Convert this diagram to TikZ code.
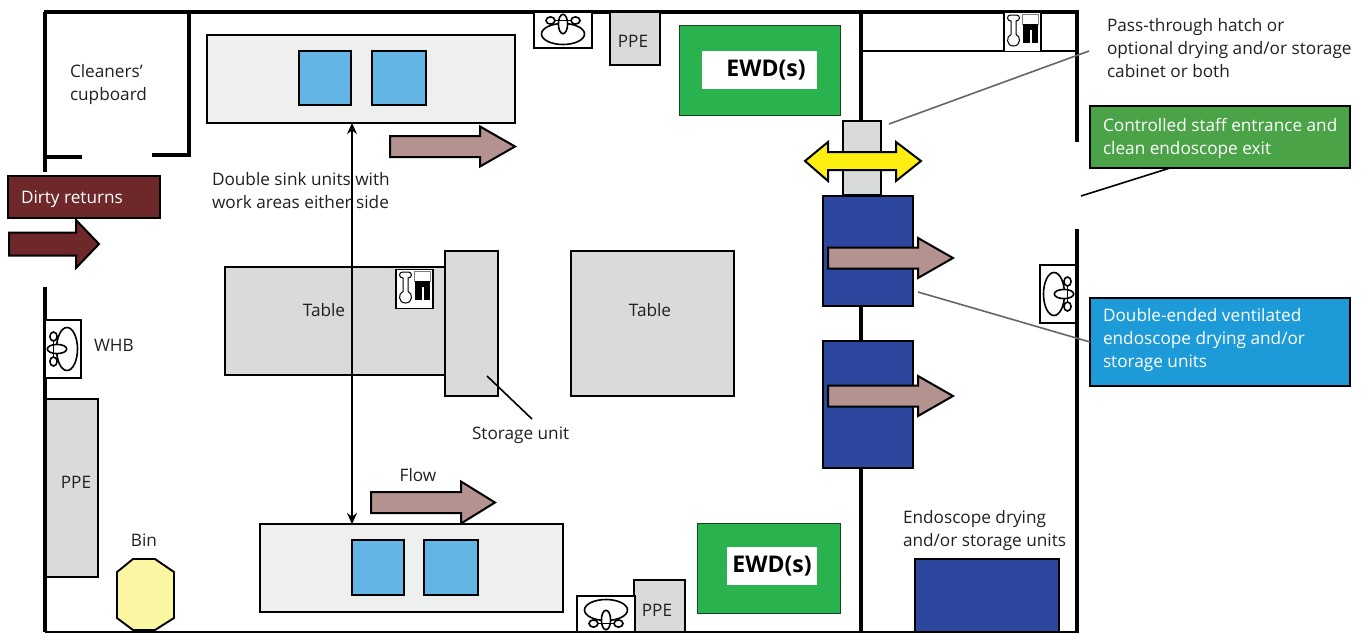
\documentclass[tikz,border=0pt]{standalone}
\usepackage{fontspec}
\usetikzlibrary{arrows.meta}
\setmainfont{Open Sans}
\definecolor{txt}{HTML}{231F20}
\definecolor{tablegrey}{HTML}{D9DBDA}
\definecolor{sinkgrey}{HTML}{EDF0EE}
\definecolor{bowl}{HTML}{63B5E5}
\definecolor{flowc}{HTML}{B3928F}
\definecolor{dirty}{HTML}{6E2829}
\definecolor{ewd}{HTML}{2AB24F}
\definecolor{unit}{HTML}{2C479D}
\definecolor{hatchy}{HTML}{FCEE10}
\definecolor{binc}{HTML}{FBF6A1}
\definecolor{greenbox}{HTML}{4BA347}
\definecolor{bluebox}{HTML}{1C9BD8}
\definecolor{leader}{HTML}{666666}
\newcommand{\boxat}[7][]{%
  \node[#2,minimum width={(#5-#3)*1pt},minimum height={(#6-#4)*1pt},#1] (#7) at ({(#3+#5)/2},{(#4+#6)/2}) {};}
\newcommand{\flowarrow}[7][flowarrow]{% x1, xhead, xtip, ymid, half shaft, half head
  \draw[#1] (#2,#5-#6) -- (#3,#5-#6) -- (#3,#5-#7) -- (#4,#5) -- (#3,#5+#7) -- (#3,#5+#6) -- (#2,#5+#6) -- cycle;}
\tikzset{
  wall/.style={line width=4pt,black},
  thinwall/.style={line width=2.6pt,black},
  base/.style={draw=black,inner sep=0pt,outer sep=0pt,line width=1.9pt,text=txt},
  tablebox/.style={base,fill=tablegrey},
  sinkbox/.style={base,fill=sinkgrey},
  bowlbox/.style={base,fill=bowl},
  unitbox/.style={base,fill=unit},
  ewdbox/.style={inner sep=0pt,outer sep=0pt,draw=black!60!ewd,line width=.6pt,fill=ewd},
  ewdlabel/.style={inner sep=0pt,outer sep=0pt,fill=white,font=\fontsize{23}{26}\selectfont\bfseries,text=black},
  flowarrow/.style={draw=black,line width=2pt,fill=flowc,line join=miter,miter limit=10},
  dirtyarrow/.style={flowarrow,fill=dirty},
  hatcharrow/.style={flowarrow,fill=hatchy},
  lbl/.style={inner sep=0pt,outer sep=0pt,text=txt,font=\fontsize{17.2}{23}\selectfont,align=left},
  clbl/.style={lbl,align=center},
  whitelbl/.style={lbl,text=white},
  leaderline/.style={leader,line width=1.6pt},
  blackleader/.style={black,line width=1.6pt},
  sinkicon/.pic={
    \draw[black,line width=1.7pt,fill=white] (-29,-18) rectangle (29,18);
    \draw[black,line width=1.6pt] (0,4) ellipse [x radius=21.5,y radius=10.5];
    \draw[black,line width=1.6pt,fill=white] (-12.5,-9.5) ellipse [x radius=4.5,y radius=3.6];
    \draw[black,line width=1.6pt,fill=white] (12.5,-9.5) ellipse [x radius=4.5,y radius=3.6];
    \draw[black,line width=1.6pt,fill=white] (0,-6) ellipse [x radius=4.6,y radius=9.7];
    \draw[black,line width=1.4pt] (-8,-9.5) -- (8,-9.5);
  },
  tapicon/.pic={
    \draw[black,line width=1.9pt,fill=white] (-18.5,-19.5) rectangle (18.5,19.5);
    \draw[black,line width=1pt,fill=white]
      (-11.5,-11) .. controls (-16,-11) and (-16,-17) .. (-12,-17) -- (-6,-17)
      .. controls (-2,-17) and (-2,-11) .. (-6.5,-11) -- (-6.5,2.5)
      .. controls (-1.5,4) and (-1.5,14) .. (-9,14)
      .. controls (-16.5,14) and (-16.5,4) .. (-11.5,2.5) -- cycle;
    \draw[black!50,line width=.8pt,fill=white] (0.3,-17.5) rectangle (16,-7.7);
    \fill[black] (0.7,-7.7) rectangle (15.7,-2);
    \fill[black] (0.7,-2.5) rectangle (7,11);
    \fill[black] (9,-2.5) rectangle (15.7,11);
  },
}
\begin{document}
\begin{tikzpicture}[x=1pt,y=-1pt]
\useasboundingbox (0,0) rectangle (1368,633);
% walls
\draw[wall] (44,12) -- (1079,12);
\draw[wall] (45,12) -- (45,172);
\draw[wall] (45,287) -- (45,632);
\draw[thinwall] (45,632) -- (1079,632);
\draw[wall] (1077,12) -- (1077,142);
\draw[wall] (1077,229) -- (1077,632);
\draw[wall] (861,12) -- (861,632);
\draw[thinwall] (861,51) -- (1077,51);
\draw[wall] (189,14) -- (189,157);
\draw[wall] (152,155) -- (191,155);
\draw[wall] (45,157) -- (82,157);
% anchors for free ends of connectors
\coordinate (flowx) at (352,0);
\coordinate (hatchEnd) at (1089,51);
\coordinate (hatchStart) at (889,124);
\coordinate (entranceEnd) at (1081,196);
\coordinate (entranceTop) at (1170,168);
\coordinate (unitStart) at (918,292);
\coordinate (storageStart) at (487,376);
\coordinate (storageEnd) at (532,419);
% sink units
\boxat{sinkbox}{207}{35}{515}{123}{upperSink}
\boxat{bowlbox}{299}{51}{351}{105}{upperBowlA}
\boxat{bowlbox}{372}{51}{426}{105}{upperBowlB}
\boxat{sinkbox}{260}{524}{563}{612}{lowerSink}
\boxat{bowlbox}{352}{540}{404}{595}{lowerBowlA}
\boxat{bowlbox}{424}{540}{478}{595}{lowerBowlB}
% tables
\boxat{tablebox}{225}{267}{445}{375}{tableA}
\boxat{tablebox}{445}{251}{498}{396}{storageUnit}
\boxat{tablebox}{571}{251}{734}{396}{tableB}
\node[clbl] at (324,310) {Table};
\node[clbl] at (650,310) {Table};
% PPE
\boxat{tablebox}{46}{399}{98}{577}{ppeLeft}
\boxat{tablebox}{610}{12}{660}{65}{ppeTop}
\boxat{tablebox}{634}{580}{685}{632}{ppeBottom}
\node[clbl] at (76,482) {PPE};
\node[clbl] at (633,41) {PPE};
\node[clbl] at (657,610) {PPE};
% sinks and taps
\pic at (563,30) {sinkicon};
\pic[rotate=180] at (606,614) {sinkicon};
\pic[rotate=90] at (63,349) {sinkicon};
\pic[rotate=-90] at (1058,294) {sinkicon};
\pic at (1022.5,32) {tapicon};
\pic at (414.5,289) {tapicon};
% EWD
\boxat{ewdbox}{679}{25}{840}{115}{ewdTop}
\node[ewdlabel,minimum width=115pt,minimum height=38pt] (ewdTopLabel) at (759.5,70) {\hspace*{13pt}\raisebox{-3pt}{EWD(s)}};
\boxat{ewdbox}{697}{523}{840}{613}{ewdBottom}
\node[ewdlabel,minimum width=90pt,minimum height=38pt] (ewdBottomLabel) at (772,566) {\raisebox{-2pt}{EWD(s)}};
% hatch and drying units
\boxat{tablebox}{843}{121}{881}{195}{hatch}
\boxat{unitbox}{823}{196}{913}{306}{unitA}
\boxat{unitbox}{823}{341}{913}{468}{unitB}
\boxat{unitbox}{915}{559}{1059}{632}{unitC}
% arrows
\flowarrow{390}{480}{515}{146.5}{10.5}{20}
\flowarrow{371}{461}{495}{502.5}{10.5}{21}
\flowarrow{828}{918}{953}{258}{10.5}{20}
\flowarrow{828}{918}{953}{396}{10.5}{20}
\flowarrow[dirtyarrow]{9}{76}{99}{244}{11.5}{24}
\draw[hatcharrow] (805,161) -- (828,142) -- (828,152) -- (896,152) -- (896,142) -- (921,161) -- (896,181) -- (896,170) -- (828,170) -- (828,181) -- cycle;
% double-headed connector
\draw[black,line width=2pt,{Stealth[length=11pt,width=10pt]}-{Stealth[length=11pt,width=10pt]}] (upperSink.south -| flowx) -- (lowerSink.north -| flowx);
% bin
\draw[black,line width=1.9pt,fill=binc] (133,559) -- (155,559) -- (174,572) -- (174,618) -- (155,630) -- (133,630) -- (117,618) -- (117,572) -- cycle;
% boxes with text
\node[base,fill=dirty,minimum width=152pt,minimum height=42pt] (dirtyBox) at (84,197) {};
\node[whitelbl,anchor=west] at (21,199) {Dirty returns};
\node[base,fill=greenbox,minimum width=260pt,minimum height=62pt] (greenBox) at (1220,137) {};
\node[whitelbl,anchor=west] (greenText) at (1103,138.5) {Controlled staff entrance and\\clean endoscope exit};
\node[base,fill=bluebox,minimum width=260pt,minimum height=88pt] (blueBox) at (1220,342) {};
\node[whitelbl,anchor=west] (blueText) at (1103,340.5) {Double-ended ventilated\\endoscope drying and/or\\storage units};
% labels
\node[lbl,anchor=west] at (70,84.5) {Cleaners’\\cupboard};
\node[lbl,anchor=west] at (212,191) {Double sink units with\\work areas either side};
\node[lbl,anchor=west] at (94,345) {WHB};
\node[lbl,anchor=west] (storageLabel) at (472,435) {Storage unit};
\node[clbl] at (418,475) {Flow};
\node[clbl] at (144,540) {Bin};
\node[lbl,anchor=west] at (903,531) {Endoscope drying\\and/or storage units};
\node[lbl,anchor=west] (hatchLabel) at (1107,48) {Pass-through hatch or\\optional drying and/or storage\\cabinet or both};
% leaders
\draw[leaderline] (hatchStart) -- (hatchEnd);
\draw[leaderline] (unitStart) -- (blueBox.west);
\draw[blackleader] (entranceEnd) -- (entranceTop);
\draw[blackleader] (storageStart) -- (storageEnd);
\end{tikzpicture}
\end{document}
